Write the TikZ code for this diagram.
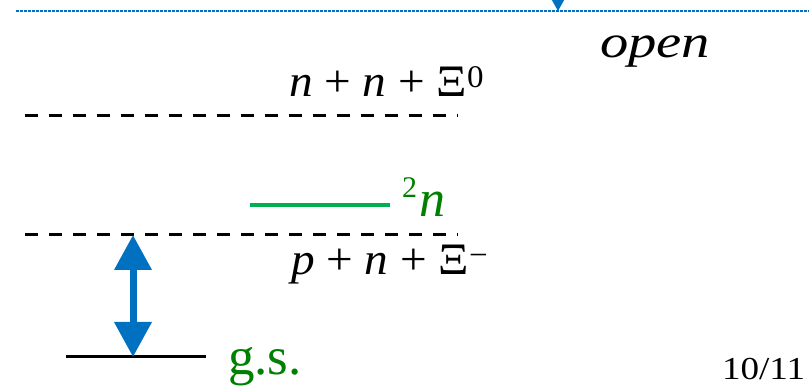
\documentclass[tikz,border=0pt]{standalone}
\usepackage{fontspec}
\setmainfont{Liberation Serif}
\usetikzlibrary{arrows.meta}
\definecolor{lineblue}{RGB}{0,112,192}
\definecolor{levelgreen}{RGB}{0,176,80}
\definecolor{textgreen}{RGB}{0,128,0}
\tikzset{
  lbl/.style={inner sep=0pt, outer sep=0pt, anchor=base west},
  threshold/.style={draw=black, line width=3pt, dash pattern=on 13pt off 11pt},
  openline/.style={draw=lineblue, line width=2.4pt, dash pattern=on 2.7pt off 1.3pt},
  gsline/.style={draw=black, line width=3pt},
  resline/.style={draw=levelgreen, line width=4pt},
  gaparrow/.style={draw=lineblue, line width=7pt, {Triangle[length=35pt,width=36pt]}-{Triangle[length=35pt,width=36pt]}},
  inarrow/.style={draw=lineblue, line width=1pt, -{Triangle[length=11pt,width=12pt]}}
}
\begin{document}
\begin{tikzpicture}[x=1pt,y=-1pt]
\useasboundingbox (0,0) rectangle (809,387);
\clip (0,0) rectangle (809,387);
% open threshold (dotted)
\coordinate (openL) at (16,11);
\coordinate (openR) at (809,11);
\draw[openline] (openL) -- (openR);
\coordinate (inFrom) at (558,-30);
\coordinate (inTo) at (558,11);
\draw[inarrow] (inFrom) -- (inTo);
\node[lbl, font=\fontsize{46}{54}\selectfont\itshape] (open) at (600,58) {\scalebox{1.23}[1]{open}};
% n+n+Xi0 threshold
\coordinate (thA1) at (25,116);
\coordinate (thA2) at (458,116);
\draw[threshold] (thA1) -- (thA2);
\node[lbl, font=\fontsize{45}{54}\selectfont] (nnxi) at (289,97) {\scalebox{1.05}[1]{\textit{n} + \textit{n} + Ξ\textsuperscript{0}}};
% 2n resonance
\coordinate (resL) at (250,205);
\coordinate (resR) at (390,205);
\draw[resline] (resL) -- (resR);
\node[lbl, text=textgreen, font=\fontsize{52}{60}\selectfont] (twon) at (402,217) {\raisebox{19pt}{\fontsize{30}{34}\selectfont 2}\kern2pt\textit{n}};
% p+n+Xi- threshold
\coordinate (thB1) at (25,235);
\coordinate (thB2) at (458,235);
\draw[threshold] (thB1) -- (thB2);
\node[lbl, font=\fontsize{45}{54}\selectfont] (pnxi) at (291,275) {\scalebox{1.05}[1]{\textit{p} + \textit{n} + Ξ\textsuperscript{−}}};
% ground state
\coordinate (gsL) at (66,357);
\coordinate (gsR) at (206,357);
\draw[gsline] (gsL) -- (gsR);
\node[lbl, text=textgreen, font=\fontsize{53}{60}\selectfont] (gs) at (228,374) {g.s.};
% binding gap arrow
\coordinate (gapTop) at (133,235);
\coordinate (gapBot) at (133,357);
\draw[gaparrow] (gapTop) -- (gapBot);
% page number
\node[lbl, font=\fontsize{32}{40}\selectfont] (page) at (722,380) {\scalebox{1.16}[1]{10/11}};
\end{tikzpicture}
\end{document}
